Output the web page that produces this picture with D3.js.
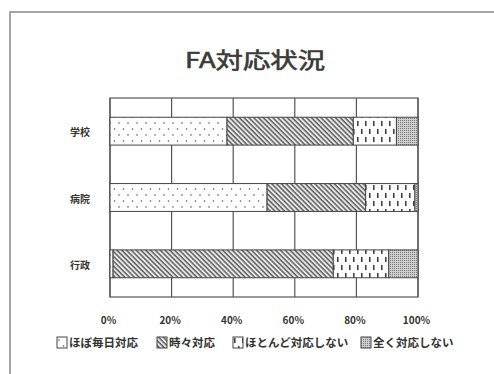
<!DOCTYPE html>
<html>
<head>
<meta charset="utf-8">
<script src="https://cdn.jsdelivr.net/npm/d3@7"></script>
<style>
  body { margin: 0; background: #fff; }
  text { font-family: "Noto Sans CJK JP", "Noto Sans", sans-serif; fill: #333; }
</style>
</head>
<body>
<svg width="494" height="374"></svg>
<script>
var categories = ["学校", "病院", "行政"];
var seriesNames = ["ほぼ毎日対応", "時々対応", "ほとんど対応しない", "全く対応しない"];
var daily = [38, 51, 1];
var sometimes = [41, 32, 71.5];
var rarely = [14, 16, 18];
var never = [7, 1, 9.5];
var ticks = [0, 20, 40, 60, 80, 100];

var svg = d3.select("svg");

// patterns
var defs = svg.append("defs");

var p1 = defs.append("pattern").attr("id", "pat0")
  .attr("patternUnits", "userSpaceOnUse").attr("width", 9).attr("height", 12);
p1.append("rect").attr("width", 9).attr("height", 12).attr("fill", "#fff");
p1.append("circle").attr("cx", 2).attr("cy", 3).attr("r", 0.8).attr("fill", "#555");
p1.append("circle").attr("cx", 6.5).attr("cy", 9).attr("r", 0.8).attr("fill", "#555");

var p2 = defs.append("pattern").attr("id", "pat1")
  .attr("patternUnits", "userSpaceOnUse").attr("width", 3.4).attr("height", 10)
  .attr("patternTransform", "rotate(-45)");
p2.append("rect").attr("width", 3.4).attr("height", 10).attr("fill", "#e8e8e8");
p2.append("line").attr("x1", 1).attr("x2", 1).attr("y1", 0).attr("y2", 10)
  .attr("stroke", "#555").attr("stroke-width", 1.4);

var p3 = defs.append("pattern").attr("id", "pat2")
  .attr("patternUnits", "userSpaceOnUse").attr("width", 8).attr("height", 16);
p3.append("rect").attr("width", 8).attr("height", 16).attr("fill", "#fff");
p3.append("rect").attr("x", 1).attr("y", 1).attr("width", 1.6).attr("height", 5).attr("fill", "#444");
p3.append("rect").attr("x", 5).attr("y", 9).attr("width", 1.6).attr("height", 5).attr("fill", "#444");

var p4 = defs.append("pattern").attr("id", "pat3")
  .attr("patternUnits", "userSpaceOnUse").attr("width", 2).attr("height", 2);
p4.append("rect").attr("width", 2).attr("height", 2).attr("fill", "#d0d0d0");
p4.append("rect").attr("width", 1).attr("height", 1).attr("fill", "#777");

// chart frame
svg.append("rect")
  .attr("x", 10).attr("y", 12).attr("width", 490).attr("height", 370)
  .attr("fill", "none").attr("stroke", "#888").attr("stroke-width", 1.5);

svg.append("text")
  .attr("x", 255).attr("y", 68)
  .attr("text-anchor", "middle")
  .attr("font-size", 22).style("fill", "#3a3a3a")
  .attr("stroke", "#3a3a3a").attr("stroke-width", 0.6)
  .attr("textLength", 140).attr("lengthAdjust", "spacingAndGlyphs")
  .text("FA対応状況");

var x = d3.scaleLinear().domain([0, 100]).range([110, 418]);
var y = d3.scaleBand().domain(categories).range([98, 297])
  .paddingInner(0.58).paddingOuter(0.29);

// gridlines
svg.append("g").selectAll("line").data(ticks).enter().append("line")
  .attr("x1", function(d) { return x(d); })
  .attr("x2", function(d) { return x(d); })
  .attr("y1", 98).attr("y2", 297)
  .attr("stroke", "#555").attr("stroke-width", 1.2);

svg.append("rect")
  .attr("x", x(0)).attr("y", 98)
  .attr("width", x(100) - x(0)).attr("height", 199)
  .attr("fill", "none").attr("stroke", "#555").attr("stroke-width", 1.2);

// stacked bars
var rows = categories.map(function(c, i) {
  return { cat: c, s0: daily[i], s1: sometimes[i], s2: rarely[i], s3: never[i] };
});
var stack = d3.stack().keys(["s0", "s1", "s2", "s3"]);
var layers = stack(rows);

svg.append("g").selectAll("g").data(layers).enter().append("g")
  .attr("fill", function(d, i) { return "url(#pat" + i + ")"; })
  .selectAll("rect").data(function(d) { return d; }).enter().append("rect")
  .attr("x", function(d) { return x(d[0]); })
  .attr("width", function(d) { return x(d[1]) - x(d[0]); })
  .attr("y", function(d) { return y(d.data.cat); })
  .attr("height", y.bandwidth())
  .attr("stroke", "#444").attr("stroke-width", 1);

// axes
var xAxis = d3.axisBottom(x).tickValues(ticks)
  .tickFormat(function(d) { return d + "%"; }).tickSize(0).tickPadding(0);
var gx = svg.append("g").attr("transform", "translate(-2,317)").call(xAxis);
gx.select(".domain").remove();
gx.selectAll("text").attr("font-size", 10).attr("fill", "#333").attr("font-weight", "bold");

var yAxis = d3.axisLeft(y).tickSize(0).tickPadding(20);
var gy = svg.append("g").attr("transform", "translate(110,2)").call(yAxis);
gy.select(".domain").remove();
gy.selectAll("text").attr("font-size", 10).attr("fill", "#333").attr("font-weight", "bold");

// legend
var legendX = [57, 157, 233, 361];
var lg = svg.append("g").selectAll("g").data(seriesNames).enter().append("g")
  .attr("transform", function(d, i) { return "translate(" + legendX[i] + ",337)"; });
lg.append("rect")
  .attr("width", 10).attr("height", 11)
  .attr("fill", function(d, i) { return "url(#pat" + i + ")"; })
  .attr("stroke", "#444").attr("stroke-width", 1);
lg.append("text")
  .attr("x", 12).attr("y", 10)
  .attr("font-size", 11.5).attr("font-weight", "bold")
  .text(function(d) { return d; });
</script>
</body>
</html>
